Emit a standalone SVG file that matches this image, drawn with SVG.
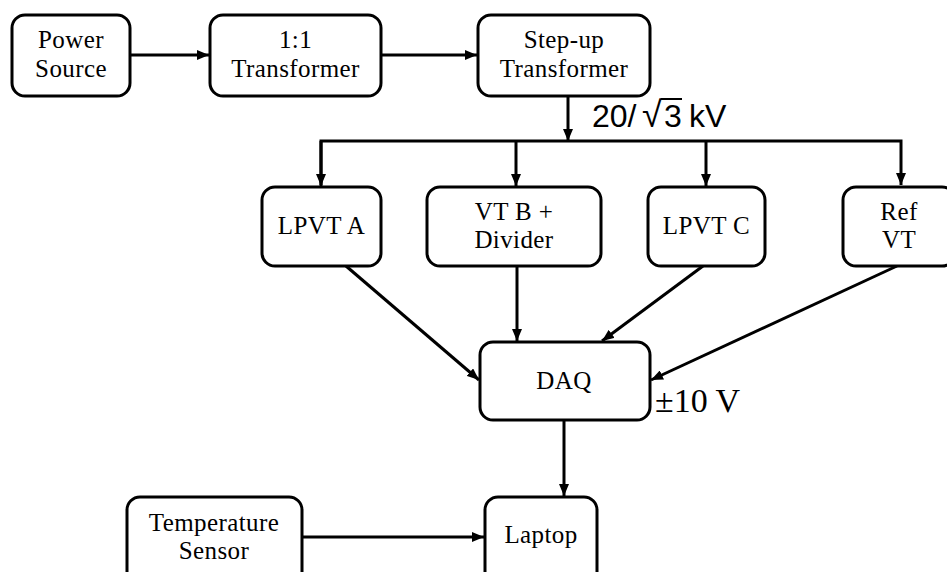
<svg xmlns="http://www.w3.org/2000/svg" width="947" height="572" viewBox="0 0 947 572">
<style>
.box{fill:#fff;stroke:#000;stroke-width:3}
.t{font-family:"Liberation Serif","Times New Roman",serif;font-size:25px;letter-spacing:0.4px;text-anchor:middle;fill:#000}
.c{fill:none;stroke:#000;stroke-width:3}
.lab{font-family:"Liberation Sans",Arial,sans-serif;font-size:32px;fill:#000}
.lab2{font-family:"Liberation Serif","Times New Roman",serif;font-size:34px;fill:#000}
</style>
<defs>
<marker id="ah" markerUnits="userSpaceOnUse" markerWidth="12" markerHeight="10" refX="12" refY="5" orient="auto">
<path d="M0,0 L12,5 L0,10 Z" fill="#000"/>
</marker>
</defs>
<rect width="947" height="572" fill="#fff"/>
<g id="connectors">
<line class="c" x1="130" y1="55" x2="209" y2="55" marker-end="url(#ah)"/>
<line class="c" x1="381" y1="55" x2="477" y2="55" marker-end="url(#ah)"/>
<line class="c" x1="568" y1="96" x2="568" y2="141" marker-end="url(#ah)"/>
<polyline class="c" points="321,185 321,141 901,141 901,185" marker-end="url(#ah)"/>
<line class="c" x1="321" y1="141" x2="321" y2="186" marker-end="url(#ah)"/>
<line class="c" x1="516" y1="141" x2="516" y2="186" marker-end="url(#ah)"/>
<line class="c" x1="706" y1="141" x2="706" y2="186" marker-end="url(#ah)"/>
<line class="c" x1="346" y1="266" x2="479" y2="380" marker-end="url(#ah)"/>
<line class="c" x1="517" y1="266" x2="517" y2="341" marker-end="url(#ah)"/>
<line class="c" x1="703" y1="266" x2="602" y2="341" marker-end="url(#ah)"/>
<line class="c" x1="897" y1="266" x2="651" y2="380" marker-end="url(#ah)"/>
<line class="c" x1="564" y1="420" x2="564" y2="496" marker-end="url(#ah)"/>
<line class="c" x1="302" y1="537" x2="484" y2="537" marker-end="url(#ah)"/>
</g>
<g id="power-source"><rect class="box" x="12" y="15" width="118" height="81" rx="13"/><text class="t" x="71" y="48">Power</text><text class="t" x="71" y="77">Source</text></g>
<g id="transformer-11"><rect class="box" x="210" y="15" width="171" height="81" rx="13"/><text class="t" x="295.5" y="48">1:1</text><text class="t" x="295.5" y="77">Transformer</text></g>
<g id="stepup"><rect class="box" x="478" y="15" width="172" height="81" rx="13"/><text class="t" x="564" y="48">Step-up</text><text class="t" x="564" y="77">Transformer</text></g>
<g id="lpvt-a"><rect class="box" x="262" y="187" width="119" height="79" rx="13"/><text class="t" x="321.5" y="234">LPVT A</text></g>
<g id="vtb"><rect class="box" x="427" y="187" width="174" height="79" rx="13"/><text class="t" x="514" y="220">VT B +</text><text class="t" x="514" y="248">Divider</text></g>
<g id="lpvt-c"><rect class="box" x="648" y="187" width="117" height="79" rx="13"/><text class="t" x="706.5" y="234">LPVT C</text></g>
<g id="ref-vt"><rect class="box" x="843" y="187" width="112" height="79" rx="13"/><text class="t" x="899" y="220">Ref</text><text class="t" x="899" y="248">VT</text></g>
<g id="daq"><rect class="box" x="480" y="342" width="170" height="78" rx="13"/><text class="t" x="564" y="389">DAQ</text></g>
<g id="temp"><rect class="box" x="127" y="497" width="175" height="90" rx="13"/><text class="t" x="214" y="531">Temperature</text><text class="t" x="214" y="559">Sensor</text></g>
<g id="laptop"><rect class="box" x="485" y="497" width="112" height="90" rx="13"/><text class="t" x="541" y="543">Laptop</text></g>
<g id="labels">
<text class="lab" y="127"><tspan x="592">20/</tspan><tspan x="642" font-size="36">√</tspan><tspan x="664">3</tspan><tspan x="689">kV</tspan></text>
<line x1="661" y1="99" x2="682" y2="99" stroke="#000" stroke-width="2"/>
<text class="lab2" x="655" y="412">±10 V</text>
</g>
</svg>
